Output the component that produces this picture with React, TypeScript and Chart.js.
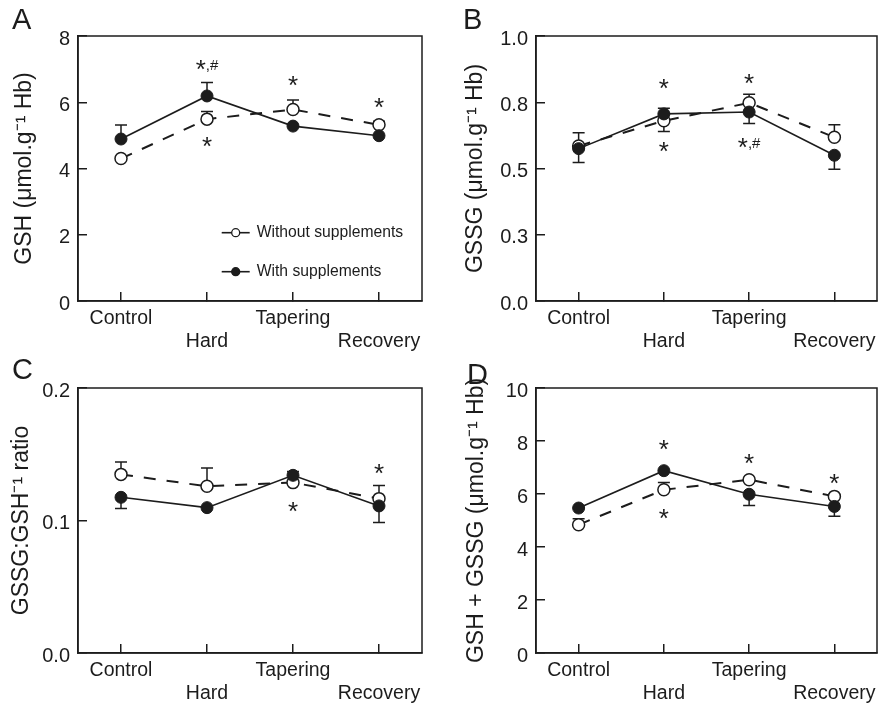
import React, { useEffect, useRef } from 'react';
import { Chart, registerables } from 'chart.js';

Chart.register(...registerables);

const FONT = "'Liberation Sans', Arial, Helvetica, sans-serif";
const INK = '#1c1c1c';

// ---------- data ----------
const categories = ['Control', 'Hard', 'Tapering', 'Recovery'];
const seriesNames = ['Without supplements', 'With supplements'];

// Panel A: GSH
const gshWithout = [4.3, 5.49, 5.78, 5.32];
const gshWith = [4.89, 6.19, 5.28, 4.99];
const gshWithoutErr = [null, 5.72, 6.07, 5.43];
const gshWithErr = [5.31, 6.6, null, null];
const gshNotes: [number, number, string][] = [[1, 7.12, '*,#'], [1, 4.81, '*'], [2, 6.65, '*'], [3, 5.97, '*']];

// Panel B: GSSG
const gssgWithout = [0.585, 0.68, 0.748, 0.618];
const gssgWith = [0.575, 0.706, 0.713, 0.55];
const gssgWithoutErr = [0.635, 0.64, 0.78, 0.665];
const gssgWithErr = [0.523, 0.727, 0.67, 0.497];
const gssgNotes: [number, number, string][] = [[1, 0.818, '*'], [1, 0.582, '*'], [2, 0.837, '*'], [2, 0.597, '*,#']];

// Panel C: GSSG:GSH ratio
const ratioWithout = [0.1348, 0.1258, 0.1286, 0.1165];
const ratioWith = [0.1175, 0.1097, 0.1341, 0.111];
const ratioWithoutErr = [0.1442, 0.1396, null, 0.1265];
const ratioWithErr = [0.109, null, 0.137, 0.0984];
const ratioNotes: [number, number, string][] = [[2, 0.11, '*'], [3, 0.139, '*']];

// Panel D: GSH + GSSG
const totalWithout = [4.84, 6.16, 6.54, 5.91];
const totalWith = [5.47, 6.88, 5.99, 5.53];
const totalWithoutErr = [5.07, 6.43, null, null];
const totalWithErr = [null, null, 5.57, 5.16];
const totalNotes: [number, number, string][] = [[1, 7.86, '*'], [1, 5.23, '*'], [2, 7.31, '*'], [3, 6.58, '*']];

// axis settings: [min, max, step, decimals]
const gshAxis = [0, 8, 2, 0];
const gssgAxis = [0, 1, 0.25, 1];
const ratioAxis = [0, 0.2, 0.1, 1];
const totalAxis = [0, 10, 2, 0];

type Panel = {
  letter: string;
  title: string;
  axis: number[];
  without: (number | null)[];
  withS: (number | null)[];
  withoutErr: (number | null)[];
  withErr: (number | null)[];
  notes: [number, number, string][];
  legend: boolean;
  left: number;
  top: number;
  width: number;
  height: number;
  area: { left: number; top: number; right: number; bottom: number };
  titlePad: number;
  letterPos: [number, number];
};

const panels: Panel[] = [
  {
    letter: 'A', title: 'GSH (\u03bcmol.g\u207b\u00b9 Hb)', axis: gshAxis,
    without: gshWithout, withS: gshWith, withoutErr: gshWithoutErr, withErr: gshWithErr, notes: gshNotes,
    legend: true, left: 0, top: 0, width: 440, height: 352,
    area: { left: 78, top: 36, right: 422, bottom: 301 }, titlePad: 11, letterPos: [12, 29],
  },
  {
    letter: 'B', title: 'GSSG (\u03bcmol.g\u207b\u00b9 Hb)', axis: gssgAxis,
    without: gssgWithout, withS: gssgWith, withoutErr: gssgWithoutErr, withErr: gssgWithErr, notes: gssgNotes,
    legend: false, left: 440, top: 0, width: 439, height: 352,
    area: { left: 96, top: 36, right: 437, bottom: 301 }, titlePad: 22, letterPos: [23, 29],
  },
  {
    letter: 'C', title: 'GSSG:GSH\u207b\u00b9 ratio', axis: ratioAxis,
    without: ratioWithout, withS: ratioWith, withoutErr: ratioWithoutErr, withErr: ratioWithErr, notes: ratioNotes,
    legend: false, left: 0, top: 352, width: 440, height: 353,
    area: { left: 78, top: 36, right: 422, bottom: 301 }, titlePad: 8, letterPos: [12, 27],
  },
  {
    letter: 'D', title: 'GSH + GSSG (\u03bcmol.g\u207b\u00b9 Hb)', axis: totalAxis,
    without: totalWithout, withS: totalWith, withoutErr: totalWithoutErr, withErr: totalWithErr, notes: totalNotes,
    legend: false, left: 440, top: 352, width: 439, height: 353,
    area: { left: 96, top: 36, right: 437, bottom: 301 }, titlePad: 23, letterPos: [27, 32],
  },
];

function drawNote(ctx: CanvasRenderingContext2D, text: string, cx: number, cy: number) {
  const parts = text.split('').map((ch) => ({ ch, size: ch === '*' ? 26 : 15, w: 0 }));
  let total = 0;
  parts.forEach((p) => {
    ctx.font = `${p.size}px ${FONT}`;
    p.w = ctx.measureText(p.ch).width;
    total += p.w;
  });
  ctx.font = `26px ${FONT}`;
  const ms = ctx.measureText('*');
  const starBase = cy + (ms.actualBoundingBoxAscent - ms.actualBoundingBoxDescent) / 2;
  ctx.font = `15px ${FONT}`;
  const mh = ctx.measureText('#');
  const smallBase = cy + (mh.actualBoundingBoxAscent - mh.actualBoundingBoxDescent) / 2;
  let x = cx - total / 2;
  ctx.textAlign = 'left';
  ctx.textBaseline = 'alphabetic';
  parts.forEach((p) => {
    ctx.font = `${p.size}px ${FONT}`;
    ctx.fillText(p.ch, x, p.ch === '*' ? starBase : smallBase);
    x += p.w;
  });
}

function buildConfig(p: Panel): any {
  const [min, max, step, decimals] = p.axis;
  const frame = {
    id: 'frame',
    afterDraw(chart: any) {
      const { ctx, chartArea: a } = chart;
      ctx.save();
      ctx.strokeStyle = INK;
      ctx.lineWidth = 1.5;
      ctx.strokeRect(a.left, a.top, a.right - a.left, a.bottom - a.top);
      ctx.restore();
    },
  };
  const errorBars = {
    id: 'errorBars',
    beforeDatasetsDraw(chart: any) {
      const { ctx } = chart;
      const xs = chart.scales.x;
      const ys = chart.scales.y;
      ctx.save();
      ctx.strokeStyle = INK;
      ctx.lineWidth = 1.5;
      const ends = [p.withoutErr, p.withErr];
      const vals = [p.without, p.withS];
      ends.forEach((arr, di) => {
        arr.forEach((e, i) => {
          const v = vals[di][i];
          if (e == null || v == null) return;
          const px = xs.getPixelForValue(i);
          const py = ys.getPixelForValue(v);
          const pe = ys.getPixelForValue(e);
          ctx.beginPath();
          ctx.moveTo(px, py);
          ctx.lineTo(px, pe);
          ctx.moveTo(px - 6, pe);
          ctx.lineTo(px + 6, pe);
          ctx.stroke();
        });
      });
      ctx.restore();
    },
  };
  const notes = {
    id: 'notes',
    afterDatasetsDraw(chart: any) {
      const { ctx } = chart;
      const xs = chart.scales.x;
      const ys = chart.scales.y;
      ctx.save();
      ctx.fillStyle = INK;
      p.notes.forEach(([i, v, t]) => {
        drawNote(ctx, t, xs.getPixelForValue(i), ys.getPixelForValue(v));
      });
      ctx.restore();
    },
  };
  const letter = {
    id: 'letter',
    afterDraw(chart: any) {
      const { ctx } = chart;
      ctx.save();
      ctx.fillStyle = INK;
      ctx.font = `29px ${FONT}`;
      ctx.textAlign = 'left';
      ctx.textBaseline = 'alphabetic';
      ctx.fillText(p.letter, p.letterPos[0], p.letterPos[1]);
      ctx.restore();
    },
  };
  const insideLegend = {
    id: 'insideLegend',
    afterDraw(chart: any) {
      if (!p.legend) return;
      const { ctx, chartArea: a } = chart;
      const x0 = a.left + 143.7;
      const rows = [a.top + 196.7, a.top + 235.7];
      ctx.save();
      chart.data.datasets.forEach((ds: any, di: number) => {
        const y = rows[di];
        ctx.strokeStyle = INK;
        ctx.lineWidth = 1.6;
        ctx.setLineDash([]);
        ctx.beginPath();
        ctx.moveTo(x0, y);
        ctx.lineTo(x0 + 28, y);
        ctx.stroke();
        ctx.beginPath();
        ctx.arc(x0 + 14, y, 4, 0, Math.PI * 2);
        ctx.fillStyle = di === 0 ? '#fff' : INK;
        ctx.fill();
        ctx.lineWidth = 1.3;
        ctx.stroke();
        ctx.fillStyle = INK;
        ctx.font = `15.7px ${FONT}`;
        ctx.textAlign = 'left';
        ctx.textBaseline = 'middle';
        ctx.fillText(ds.label, x0 + 35, y);
      });
      ctx.restore();
    },
  };

  return {
    type: 'line',
    data: {
      labels: categories,
      datasets: [
        {
          label: seriesNames[0],
          data: p.without,
          order: 2,
          borderColor: INK,
          borderWidth: 2,
          borderDash: [12, 11],
          pointRadius: 6,
          pointBackgroundColor: '#ffffff',
          pointBorderColor: INK,
          pointBorderWidth: 1.5,
          fill: false,
          tension: 0,
        },
        {
          label: seriesNames[1],
          data: p.withS,
          order: 1,
          borderColor: INK,
          borderWidth: 1.6,
          pointRadius: 6,
          pointBackgroundColor: INK,
          pointBorderColor: INK,
          pointBorderWidth: 1,
          fill: false,
          tension: 0,
        },
      ],
    },
    options: {
      animation: false,
      responsive: false,
      maintainAspectRatio: false,
      events: [],
      layout: {
        autoPadding: false,
        padding: { left: 0, top: p.area.top, right: p.width - p.area.right, bottom: 0 },
      },
      plugins: {
        legend: { display: false },
        tooltip: { enabled: false },
        title: { display: false },
      },
      scales: {
        x: {
          type: 'category',
          offset: true,
          grid: { drawOnChartArea: false, tickLength: -9, color: INK, lineWidth: 1.5, offset: false },
          border: { color: INK, width: 1.5 },
          ticks: {
            autoSkip: false,
            maxRotation: 0,
            minRotation: 0,
            padding: 15,
            color: INK,
            font: { family: FONT, size: 19.5 },
            callback: (_v: any, i: number) => (i % 2 ? ['', categories[i]] : categories[i]),
          },
          afterFit: (s: any) => {
            s.height = p.height - p.area.bottom;
            s.paddingLeft = 0;
            s.paddingRight = 0;
          },
        },
        y: {
          min,
          max,
          grid: { drawOnChartArea: false, tickLength: -9, color: INK, lineWidth: 1.5 },
          border: { color: INK, width: 1.5 },
          ticks: {
            stepSize: step,
            padding: 17,
            labelOffset: 3,
            color: INK,
            font: { family: FONT, size: 20 },
            callback: (v: any) => Number(v).toFixed(decimals),
          },
          title: {
            display: true,
            text: p.title,
            color: INK,
            font: { family: FONT, size: 23 },
            padding: { top: p.titlePad, bottom: 0 },
          },
          afterFit: (s: any) => {
            s.width = p.area.left;
          },
        },
      },
    },
    plugins: [frame, errorBars, notes, letter, insideLegend],
  };
}

function PanelChart({ p }: { p: Panel }) {
  const ref = useRef<HTMLCanvasElement>(null);
  useEffect(() => {
    if (!ref.current) return;
    const chart = new Chart(ref.current, buildConfig(p));
    return () => chart.destroy();
  }, [p]);
  return (
    <div style={{ position: 'absolute', left: p.left, top: p.top, width: p.width, height: p.height }}>
      <canvas ref={ref} width={p.width} height={p.height} style={{ width: p.width, height: p.height }} />
    </div>
  );
}

export default function App() {
  return (
    <div
      style={{
        position: 'absolute',
        left: 0,
        top: 0,
        width: 879,
        height: 705,
        overflow: 'hidden',
        background: '#ffffff',
      }}
    >
      {panels.map((p) => (
        <PanelChart key={p.letter} p={p} />
      ))}
    </div>
  );
}
